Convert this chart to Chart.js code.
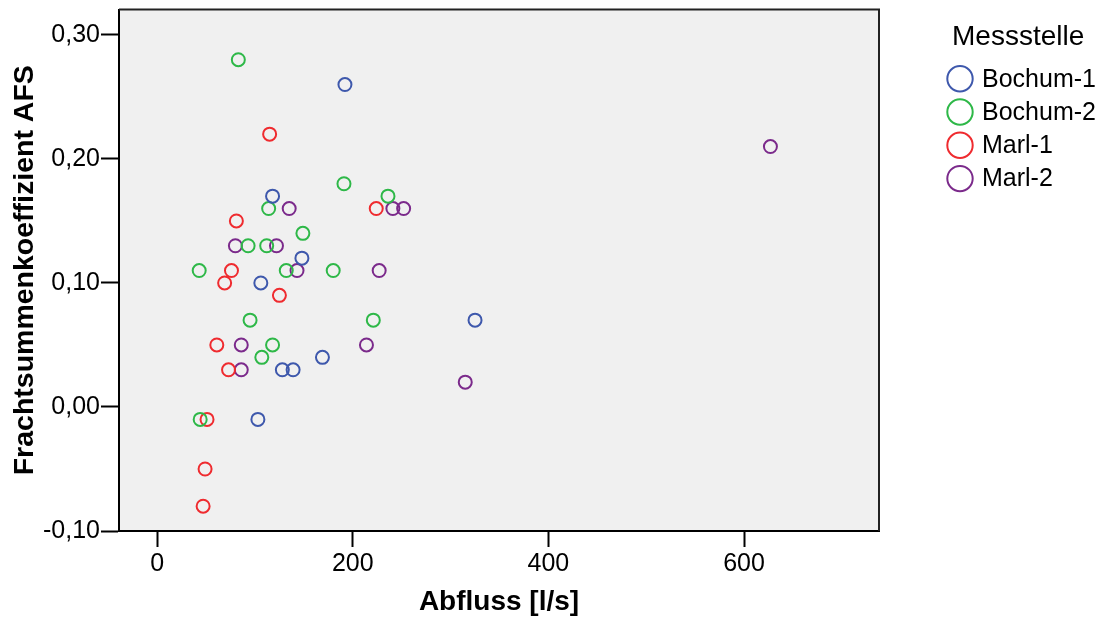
<!DOCTYPE html>
<html>
<head>
<meta charset="utf-8">
<script src="https://cdn.jsdelivr.net/npm/chart.js@4/dist/chart.umd.min.js"></script>
<style>
  html, body { margin: 0; padding: 0; background: #fff; }
  #wrap { width: 1101px; height: 619px; position: relative; }
</style>
</head>
<body>
<div id="wrap"><canvas id="afsChart"></canvas></div>
<script>
// ===== Data =====
const stations = ["Bochum-1", "Bochum-2", "Marl-1", "Marl-2"];
const stationColors = ["#3e58ac", "#2eb848", "#ef2b2f", "#7b2a8b"];

const bochum1X = [192, 118, 148, 106, 325, 169, 128, 139, 103];
const bochum1Y = [0.26, 0.17, 0.12, 0.10, 0.07, 0.04, 0.03, 0.03, -0.01];

const bochum2X = [83, 191, 236, 114, 149, 93, 112, 43, 132, 180, 95, 221, 118, 107, 44];
const bochum2Y = [0.28, 0.18, 0.17, 0.16, 0.14, 0.13, 0.13, 0.11, 0.11, 0.11, 0.07, 0.07, 0.05, 0.04, -0.01];

const marl1X = [115, 224, 81, 76, 69, 125, 61, 73, 51, 49, 47];
const marl1Y = [0.22, 0.16, 0.15, 0.11, 0.10, 0.09, 0.05, 0.03, -0.01, -0.05, -0.08];

const marl2X = [627, 135, 241, 252, 80, 122, 143, 227, 86, 86, 214, 315];
const marl2Y = [0.21, 0.16, 0.16, 0.16, 0.13, 0.13, 0.11, 0.11, 0.05, 0.03, 0.05, 0.02];

const xTicks = [0, 200, 400, 600];
const yTicks = [-0.10, 0.00, 0.10, 0.20, 0.30];

const seriesX = [bochum1X, bochum2X, marl1X, marl2X];
const seriesY = [bochum1Y, bochum2Y, marl1Y, marl2Y];

const FONT = "'Liberation Sans', Arial, sans-serif";

// ===== Plugins =====
const plotFrame = {
  id: "plotFrame",
  beforeDraw(chart) {
    const { ctx, chartArea: a } = chart;
    ctx.save();
    ctx.fillStyle = "#f0f0f0";
    ctx.fillRect(a.left, a.top, a.right - a.left, a.bottom - a.top);
    ctx.restore();
  },
  afterDraw(chart) {
    const { ctx, chartArea: a } = chart;
    ctx.save();
    ctx.strokeStyle = "#222";
    ctx.lineWidth = 2;
    ctx.beginPath();
    ctx.moveTo(a.left, a.top);
    ctx.lineTo(a.right, a.top);
    ctx.lineTo(a.right, a.bottom);
    ctx.stroke();
    ctx.restore();
  }
};

// legend drawn by hand so it sits where SPSS put it
const sideLegend = {
  id: "sideLegend",
  afterDraw(chart) {
    const ctx = chart.ctx;
    ctx.save();
    ctx.fillStyle = "#000";
    ctx.textAlign = "left";
    ctx.textBaseline = "alphabetic";
    ctx.font = "28px " + FONT;
    ctx.fillText("Messstelle", 952, 45);

    ctx.font = "25px " + FONT;
    ctx.textBaseline = "middle";
    chart.data.datasets.forEach((ds, i) => {
      const cy = 78.7 + i * 33.3;
      ctx.beginPath();
      ctx.arc(960, cy, 12.7, 0, Math.PI * 2);
      ctx.strokeStyle = ds.borderColor;
      ctx.lineWidth = 2;
      ctx.stroke();
      ctx.fillStyle = "#000";
      ctx.fillText(ds.label, 982, cy + 1);
    });
    ctx.restore();
  }
};

// ===== Chart =====
const afsChart = new Chart(document.getElementById("afsChart"), {
  type: "scatter",
  data: {
    datasets: stations.map((name, i) => ({
      label: name,
      data: seriesX[i].map((x, j) => ({ x: x, y: seriesY[i][j] })),
      borderColor: stationColors[i],
      backgroundColor: "rgba(0,0,0,0)",
      pointRadius: 6.5,
      pointHoverRadius: 6.5,
      borderWidth: 2,
      pointStyle: "circle"
    }))
  },
  options: {
    responsive: true,
    maintainAspectRatio: false,
    animation: false,
    devicePixelRatio: 1,
    layout: { padding: { top: 9.5, right: 222, left: 0, bottom: 0 } },
    plugins: {
      legend: { display: false },
      tooltip: { enabled: false }
    },
    scales: {
      x: {
        type: "linear",
        min: -39,
        max: 738,
        afterBuildTicks: scale => { scale.ticks = xTicks.map(v => ({ value: v })); },
        afterFit: scale => {
          scale.height = 88;
          scale.paddingLeft = 0;
          scale.paddingRight = 0;
        },
        grid: { drawOnChartArea: false, tickLength: 16, tickWidth: 2, tickColor: "#000" },
        border: { display: true, color: "#000", width: 2 },
        ticks: {
          color: "#000",
          padding: 2,
          maxRotation: 0,
          font: { family: FONT, size: 25 },
          callback: v => String(v)
        },
        title: {
          display: true,
          text: "Abfluss [l/s]",
          color: "#000",
          padding: { top: 0, bottom: 0 },
          font: { family: FONT, size: 28, weight: "bold" }
        }
      },
      y: {
        type: "linear",
        min: -0.10,
        max: 0.3205,
        afterBuildTicks: scale => { scale.ticks = yTicks.map(v => ({ value: v })); },
        afterFit: scale => {
          scale.width = 119;
          scale.paddingTop = 0;
          scale.paddingBottom = 0;
        },
        grid: { drawOnChartArea: false, tickLength: 18, tickWidth: 2, tickColor: "#000" },
        border: { display: true, color: "#000", width: 2 },
        ticks: {
          color: "#000",
          padding: 1,
          font: { family: FONT, size: 25 },
          callback: v => v.toFixed(2).replace(".", ",")
        },
        title: {
          display: true,
          text: "Frachtsummenkoeffizient AFS",
          color: "#000",
          padding: { top: 8, bottom: 0 },
          font: { family: FONT, size: 28.5, weight: "bold" }
        }
      }
    }
  },
  plugins: [plotFrame, sideLegend]
});
</script>
</body>
</html>
